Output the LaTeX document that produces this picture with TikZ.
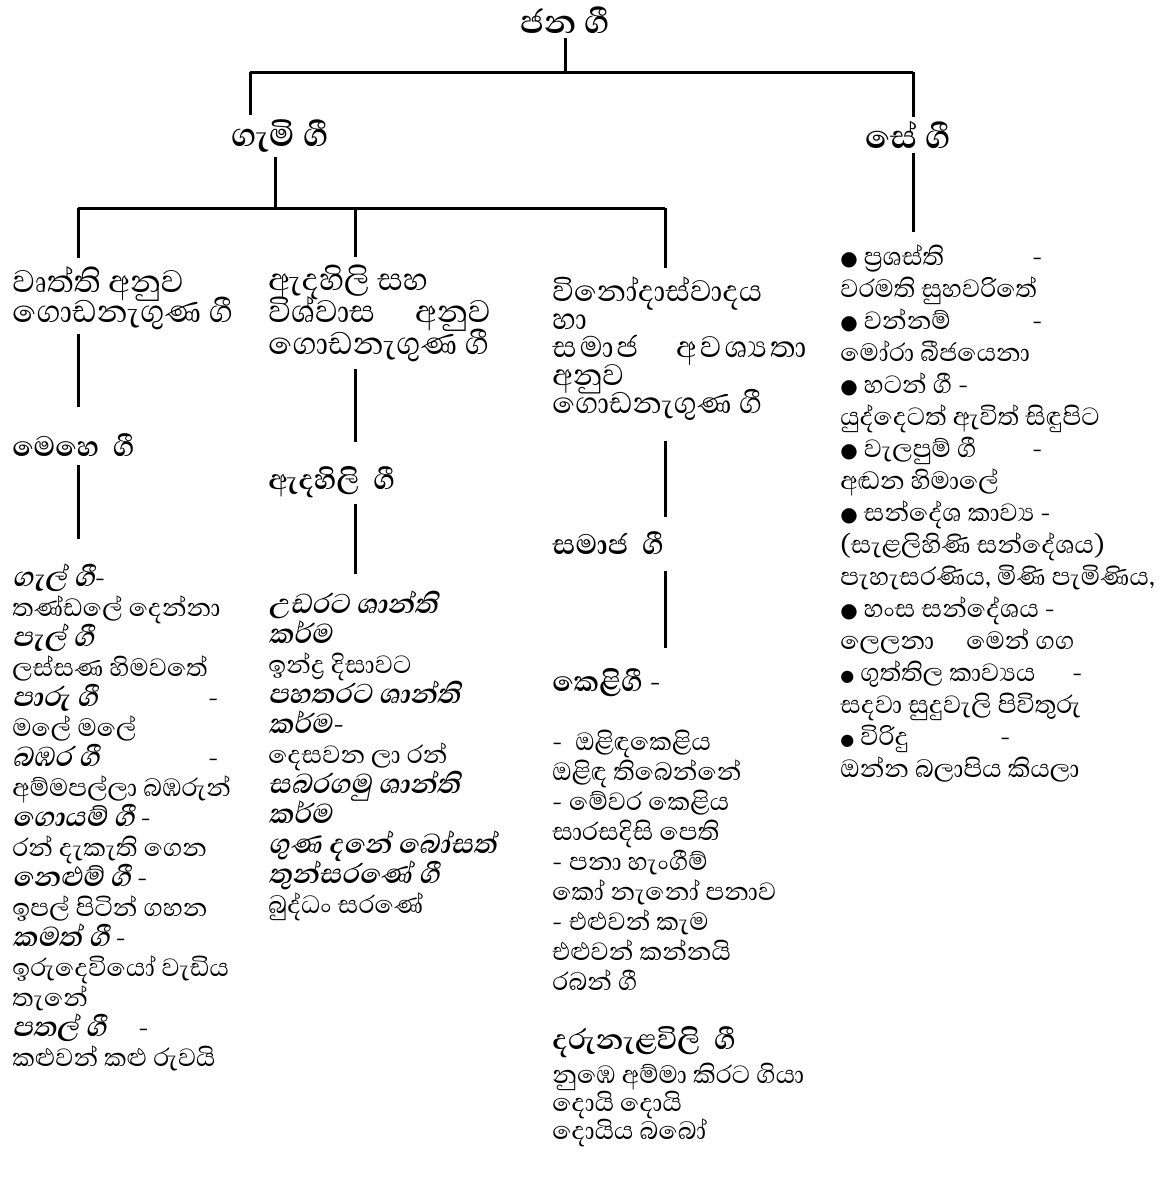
\documentclass[tikz,border=0pt]{standalone}
\usepackage{fontspec}
\setmainfont[Script=Sinhala]{Abhaya Libre}
\newfontfamily\slfont[Script=Sinhala,FakeSlant=0.2]{Abhaya Libre}
\newfontfamily\dotfont{DejaVu Sans}
\newcommand{\bi}[1]{{\slfont\bfseries\fontsize{17.5}{15}\selectfont #1}}
\newcommand{\dt}{{\dotfont\fontsize{10}{10}\selectfont ●}\ }
\newcommand{\sdt}{{\dotfont\fontsize{8}{8}\selectfont ●}\ }
\newcommand{\zj}{^^^^200d}
\newcommand{\ls}{\hspace{1.5pt}}
\lineskiplimit=-50pt
\tikzstyle{title}=[inner sep=2pt, font=\bfseries\fontsize{21}{22}\selectfont]
\tikzstyle{gtext}=[inner sep=0pt, anchor=north west, align=left]
\tikzstyle{head}=[gtext, font=\fontsize{20}{15}\selectfont]
\tikzstyle{sub}=[gtext, font=\bfseries\fontsize{18}{15}\selectfont]
\tikzstyle{body}=[gtext, font=\fontsize{16}{15}\selectfont]
\tikzstyle{link}=[line width=1.5pt]

\begin{document}
\begin{tikzpicture}[x=0.5pt, y=-0.5pt]
	\useasboundingbox (0,0) rectangle (1165,1189);
	% top of the tree
	\node[title] (jana) at (565,20) {ජන ගී};
	\node[title] (gami) at (280,136) {ගැමි ගී};
	\node[title] (se) at (908,135) {සේ ගී};
	\coordinate (tl) at (250,72);
	\coordinate (tr) at (913,72);
	\coordinate (seend) at (913,232);
	\coordinate (bl) at (78,208);
	\coordinate (bm) at (355,208);
	\coordinate (br) at (665,208);
	% first column
	\node[head] (vrutti) at (12,266) {වෘත්ති අනුව\\ගොඩනැගුණ ගී};
	\node[sub] (mehe) at (12,433) {මෙහෙ\ \ ගී};
	\node[body] (mehelist) at (12,563) {\bi{ගැල් ගී}-\\
		තණ්ඩලේ දෙන්නා\\
		\bi{පැල් ගී}\\
		ලස්සණ හිමවතේ\\
		\makebox[98pt][l]{\bi{පාරු ගී}}-\\
		මලේ මලේ\\
		\makebox[98pt][l]{\bi{බඹර ගී}}-\\
		අම්මපල්ලා බඹරුන්\\
		\bi{ගොයම් ගී} -\\
		රන් දැකැති ගෙන\\
		\bi{නෙළුම් ගී} -\\
		ඉපල් පිටින් ගහන\\
		\bi{කමත් ගී} -\\
		ඉරුදෙවියෝ වැඩිය\\
		තැනේ\\
		\bi{පතල් ගී}\quad -\\
		කළුවන් කළු රුවයි};
	% second column
	\node[head, font=\fontsize{20}{16}\selectfont] (adahili) at (268,265) {ඇදහිලි සහ\\විශ්වාස\quad අනුව\\ගොඩනැගුණ ගී};
	\node[sub] (adasub) at (268,466) {ඇදහිලි\ \ ගී};
	\node[body] (adalist) at (268,590) {\bi{උඩරට ශාන්ති}\\
		\bi{කර්ම}\\
		ඉන්ද්\zj ර දිසාවට\\
		\bi{පහතරට ශාන්ති}\\
		\bi{කර්ම-}\\
		දෙසවන ලා රන්\\
		\bi{සබරගමු ශාන්ති}\\
		\bi{කර්ම}\\
		\bi{ගුණ දනේ බෝසත්}\\
		\bi{තුන්සරණේ ගී}\\
		බුද්ධං සරණේ};
	% third column
	\node[head, font=\fontsize{19}{14}\selectfont] (vinoda) at (552,276) {විනෝදාස්වාදය\\
		හා\\
		ස\ls මා\ls ජ\quad අ\ls ව\ls ශ්\zj ය\ls තා\\
		අනුව\\
		ගොඩනැගුණ ගී};
	\node[sub] (samaja) at (552,531) {සමාජ\ \ ගී};
	\node[sub] (keli) at (552,668) {කෙළිගී -};
	\node[body] (kelilist) at (552,730) {- \ ඔළිඳකෙළිය\\
		ඔළිඳ තිබෙන්නේ\\
		- මේවර කෙළිය\\
		සාරසදිසි පෙති\\
		- පනා හැංගීම්\\
		කෝ නැනෝ පනාව\\
		- එළුවන් කැම\\
		එළුවන් කන්නයි\\
		රබන් ගී};
	\node[sub] (daru) at (552,1026) {දරුනැළවිලි\ \ ගී};
	\node[body, font=\fontsize{16}{14}\selectfont] (darulist) at (552,1063) {නුඹෙ අම්මා කිරට ගියා\\
		දොයි දොයි\\
		දොයිය බබෝ};
	% fourth column
	\node[body, font=\fontsize{16}{16}\selectfont] (selist) at (840,244) {\makebox[96pt][l]{\dt ප්\zj රශස්ති}-\\
		වරමති සුහවරිතේ\\
		\makebox[96pt][l]{\dt වන්නම්}-\\
		මෝරා බීජයෙනා\\
		\dt හටන් ගී -\\
		යුද්දෙටත් ඇවිත් සිඳුපිට\\
		\makebox[96pt][l]{\dt වැලපුම් ගී}-\\
		අඬන හිමාලේ\\
		\dt සන්දේශ කාව්\zj ය -\\
		(සැළලිහිණි සන්දේශය)\\
		පැහැසරණිය, මිණි පැමිණිය,\\
		\dt හංස සන්දේශය -\\
		ලෙලනා\quad මෙන් ගග\\
		\makebox[116pt][l]{\sdt ගුත්තිල කාව්\zj යය}-\\
		සදවා සුදුවැලි පිවිතුරු\\
		\makebox[80pt][l]{\sdt විරිදු}-\\
		ඔන්න බලාපිය කියලා};
	% connectors
	\draw[link] (jana.south) -- (jana.south |- tl);
	\draw[link] (tl) -- (tr);
	\draw[link] (tl) -- (tl |- gami.north);
	\draw[link] (tr) -- (tr |- se.north);
	\draw[link] (se.south -| tr) -- (seend);
	\draw[link] ([xshift=-2.5pt]gami.south) -- ([xshift=-2.5pt]gami.south |- bl);
	\draw[link] (bl) -- (br);
	\draw[link, shorten >=4pt] (bl) -- (bl |- vrutti.north);
	\draw[link, shorten >=4pt] (bm) -- (bm |- adahili.north);
	\draw[link, shorten >=4pt] (br) -- (br |- vinoda.north);
	\draw[link, shorten <=2pt, shorten >=13pt] (vrutti.south -| bl) -- (mehe.north -| bl);
	\draw[link, shorten <=4pt, shorten >=12pt] (mehe.south -| bl) -- (mehelist.north -| bl);
	\draw[link, shorten <=3pt, shorten >=12pt] (adahili.south -| bm) -- (adasub.north -| bm);
	\draw[link, shorten <=3pt, shorten >=8pt] (adasub.south -| bm) -- (adalist.north -| bm);
	\draw[link, shorten <=10.5pt, shorten >=7pt] (vinoda.south -| br) -- (samaja.north -| br);
	\draw[link, shorten <=8pt, shorten >=10pt] (samaja.south -| br) -- (keli.north -| br);
\end{tikzpicture}
\end{document}
